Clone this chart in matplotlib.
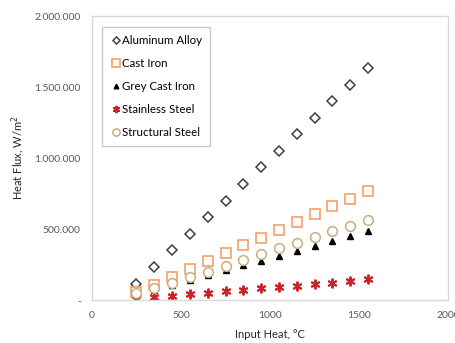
import matplotlib.pyplot as plt
from matplotlib.ticker import FuncFormatter

plt.rcParams['font.family'] = ['Lato', 'DejaVu Sans']

input_heat = [250, 350, 450, 550, 650, 750, 850, 950, 1050, 1150, 1250, 1350, 1450, 1550]

aluminum_alloy = [117e3, 235e3, 352e3, 466e3, 583e3, 700e3, 818e3, 934e3,
                  1050e3, 1167e3, 1284e3, 1401e3, 1515e3, 1632e3]
cast_iron = [58e3, 110e3, 164e3, 218e3, 275e3, 329e3, 385e3, 439e3,
             493e3, 549e3, 606e3, 662e3, 713e3, 770e3]
grey_cast_iron = [35e3, 70e3, 106e3, 141e3, 176e3, 211e3, 244e3, 277e3,
                  312e3, 345e3, 380e3, 415e3, 451e3, 486e3]
stainless_steel = [5e3, 19e3, 30e3, 40e3, 51e3, 63e3, 70e3, 82e3,
                   92e3, 99e3, 113e3, 122e3, 132e3, 146e3]
structural_steel = [47e3, 82e3, 122e3, 160e3, 195e3, 239e3, 282e3, 322e3,
                    364e3, 401e3, 442e3, 486e3, 523e3, 561e3]

fig = plt.figure(figsize=(4.55, 3.43), dpi=100)
ax = fig.add_axes([0.202, 0.125, 0.783, 0.828])

ax.plot(input_heat, aluminum_alloy, linestyle='none', marker='D', markersize=4.8,
        markerfacecolor='white', markeredgecolor='#404040', markeredgewidth=1.1,
        label='Aluminum Alloy')
ax.plot(input_heat, cast_iron, linestyle='none', marker='s', markersize=7.5,
        markerfacecolor='white', markeredgecolor='#F4A06B', markeredgewidth=1.2,
        label='Cast Iron')
ax.plot(input_heat, grey_cast_iron, linestyle='none', marker='^', markersize=4.5,
        color='black', label='Grey Cast Iron')
ax.plot(input_heat, stainless_steel, linestyle='none', marker=(6, 2, 0), markersize=7,
        markeredgecolor='#D0202A', markeredgewidth=1.4, label='Stainless Steel')
ax.plot(input_heat, structural_steel, linestyle='none', marker='o', markersize=7,
        markerfacecolor='white', markeredgecolor='#C8AD7F', markeredgewidth=1.1,
        label='Structural Steel')

ax.set_xlim(0, 2000)
ax.set_ylim(0, 2000000)
ax.set_xticks([0, 500, 1000, 1500, 2000])
ax.set_yticks([0, 500000, 1000000, 1500000, 2000000])


def fmt(v, pos):
    if v == 0:
        return '-'
    return f'{int(v):,}'.replace(',', '.')


ax.yaxis.set_major_formatter(FuncFormatter(fmt))
ax.tick_params(length=0, labelsize=7.5, labelcolor='#595959', pad=8)
for s in ax.spines.values():
    s.set_color('#D9D9D9')
    s.set_linewidth(1)

ax.set_xlabel('Input Heat, °C', fontsize=8, color='#262626', labelpad=6)
ax.set_ylabel('Heat Flux, W/m$^2$', fontsize=8, color='#262626', labelpad=5)

leg = ax.legend(loc='upper left', bbox_to_anchor=(0.028, 0.962), borderaxespad=0,
                fontsize=8.3, frameon=True, fancybox=False, edgecolor='#BFBFBF',
                labelspacing=1.05, handletextpad=0.05, handlelength=1.0,
                borderpad=0.7, markerscale=0.75)
leg.get_frame().set_linewidth(1)

fig.savefig('out.png', dpi=100)
